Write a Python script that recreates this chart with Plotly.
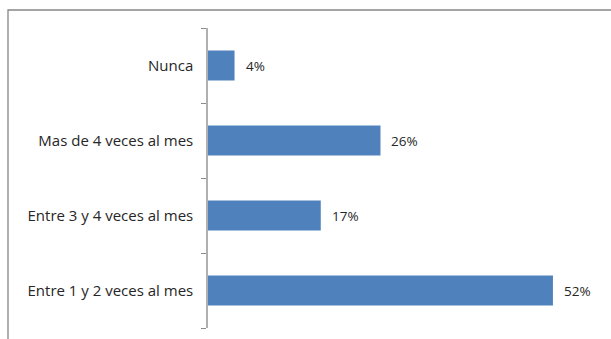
import plotly.graph_objects as go

# Frequency categories (bottom to top) and their shares in percent
categories = ["Entre 1 y 2 veces al mes", "Entre 3 y 4 veces al mes",
              "Mas de 4 veces al mes", "Nunca"]
values = [52, 17, 26, 4]
value_labels = ["52%", "17%", "26%", "4%"]

W, H = 611, 339
m_l, m_r, m_t, m_b = 208, 5, 28, 11
plot_w = W - m_l - m_r
plot_h = H - m_t - m_b

fig = go.Figure(go.Bar(
    y=categories,
    x=values,
    orientation="h",
    marker=dict(color="#4F81BD", line=dict(width=0)),
    hoverinfo="skip",
))

# Value labels placed just past the end of each bar
for cat, v, lab in zip(categories, values, value_labels):
    fig.add_annotation(
        x=v, y=cat, text=lab, showarrow=False,
        xanchor="left", yanchor="middle", xshift=9,
        font=dict(family="Open Sans", size=13.5, color="#262626"),
    )

# Outer chart-area border (extends past the right and bottom edges)
fig.add_shape(
    type="rect", xref="paper", yref="paper",
    x0=(8 - m_l) / plot_w, x1=(W + 10 - m_l) / plot_w,
    y0=-(20) / plot_h, y1=1 + (m_t - 10) / plot_h,
    line=dict(color="#868686", width=1.3),
    fillcolor="rgba(0,0,0,0)", layer="below",
)

fig.update_layout(
    width=W, height=H,
    margin=dict(l=m_l, r=m_r, t=m_t, b=m_b, pad=0),
    paper_bgcolor="white", plot_bgcolor="white",
    bargap=0.6,
    showlegend=False,
    xaxis=dict(range=[0, 60], visible=False, fixedrange=True),
    yaxis=dict(
        type="category",
        categoryorder="array", categoryarray=categories,
        range=[-0.5, 3.5],
        showline=True, linecolor="#B0B0B0", linewidth=1.5,
        ticks="outside", tickson="boundaries", ticklen=5,
        tickcolor="#8C8C8C", tickwidth=1,
        showgrid=False, zeroline=False,
        tickfont=dict(family="Open Sans", size=15, color="#262626"),
        ticklabelstandoff=10,
    ),
)

fig.write_html("out.html")
